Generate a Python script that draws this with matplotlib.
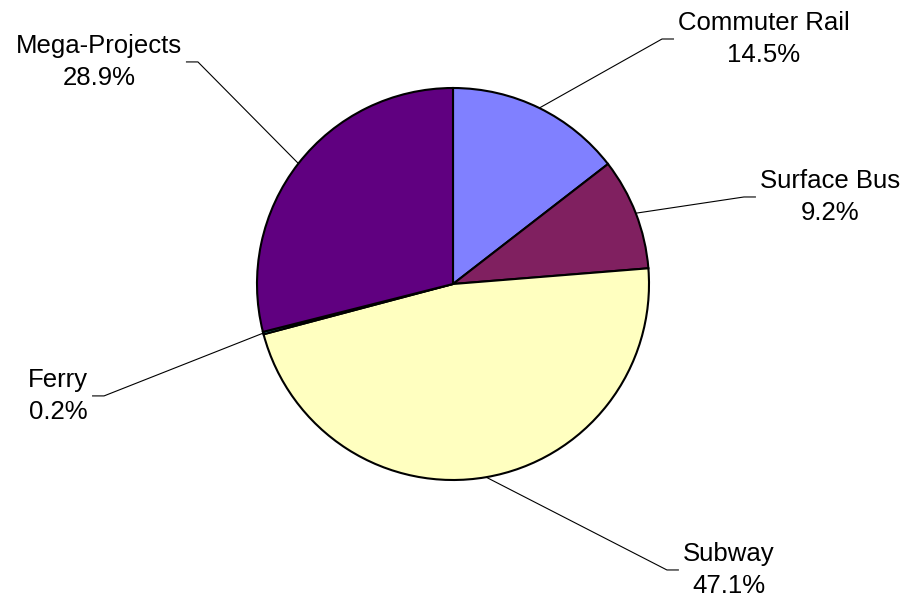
import numpy as np
import matplotlib.pyplot as plt

plt.rcParams['font.family'] = ['Liberation Sans', 'DejaVu Sans']

# Data
categories = ['Commuter Rail', 'Surface Bus', 'Subway', 'Ferry', 'Mega-Projects']
shares = [14.5, 9.2, 47.1, 0.2, 28.9]
colors = ['#8080FF', '#802060', '#FFFFC0', '#33CCCC', '#600080']

# label layout (data units, pie radius = 1, centre at 0,0)
label_pos = [(1.148, 1.25), (1.566, 0.444), (1.173, -1.459), (-1.862, -0.571), (-1.383, 1.133)]
label_side = ['left', 'left', 'left', 'right', 'right']

W, H = 910, 599
R, cx, cy = 196.0, 453.0, 284.0

fig = plt.figure(figsize=(W / 100, H / 100), dpi=100)
ax = fig.add_axes([0, 0, 1, 1])

wedges, _ = ax.pie(shares, colors=colors, startangle=90, counterclock=False,
                   radius=1, center=(0, 0), frame=True,
                   wedgeprops=dict(edgecolor='black', linewidth=1.5))
ax.set_xlim(-cx / R, (W - cx) / R)
ax.set_ylim(-(H - cy) / R, cy / R)
ax.set_aspect('auto')
ax.axis('off')

for w, name, val, (tx, ty), side in zip(wedges, categories, shares, label_pos, label_side):
    ang = np.deg2rad((w.theta1 + w.theta2) / 2)
    x0, y0 = np.cos(ang), np.sin(ang)
    stub = 12 / R
    if side == 'left':
        xe, xh = tx - stub - 4 / R, tx - 4 / R
    else:
        xe, xh = tx + stub + 4 / R, tx + 4 / R
    ax.plot([x0, xe, xh], [y0, ty, ty], color='black', lw=0.8, solid_capstyle='butt')
    ax.text(tx, ty, f'{name}\n{val:.1f}%', ha=side, va='center', multialignment='center',
            fontsize=18.5, linespacing=1.45)

fig.savefig('out.png', dpi=100)
